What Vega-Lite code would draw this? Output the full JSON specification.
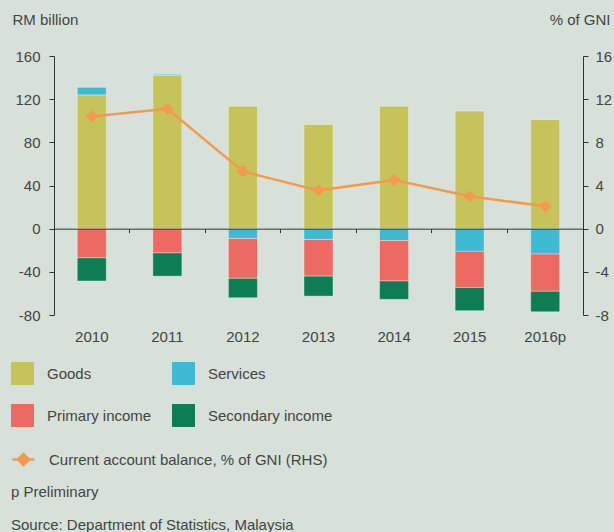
{
  "$schema": "https://vega.github.io/schema/vega-lite/v6.json",
  "width": 529,
  "height": 259,
  "autosize": {"type": "none"},
  "padding": {"left": 54, "top": 56, "right": 31, "bottom": 217},
  "background": "#d7e1d9",
  "config": {
    "view": {"stroke": null},
    "font": "Liberation Sans",
    "axis": {"labelFont": "Liberation Sans", "titleFont": "Liberation Sans", "labelColor": "#444444", "titleColor": "#444444", "labelFontSize": 15, "titleFontSize": 15, "titleFontWeight": "normal", "domainColor": "#333333", "tickColor": "#333333", "grid": false},
    "legend": {"labelFont": "Liberation Sans", "labelColor": "#444444", "labelFontSize": 15, "padding": 0, "labelLimit": 400}
  },
  "datasets": {
    "bars": [
      {"year": "2010", "component": "Goods", "rank": 1, "value": 124},
      {"year": "2010", "component": "Services", "rank": 2, "value": 7},
      {"year": "2010", "component": "Primary income", "rank": 3, "value": -27},
      {"year": "2010", "component": "Secondary income", "rank": 4, "value": -21.5},
      {"year": "2011", "component": "Goods", "rank": 1, "value": 142},
      {"year": "2011", "component": "Services", "rank": 2, "value": 1},
      {"year": "2011", "component": "Primary income", "rank": 3, "value": -22.5},
      {"year": "2011", "component": "Secondary income", "rank": 4, "value": -21.5},
      {"year": "2012", "component": "Goods", "rank": 1, "value": 113.5},
      {"year": "2012", "component": "Services", "rank": 2, "value": -9},
      {"year": "2012", "component": "Primary income", "rank": 3, "value": -37},
      {"year": "2012", "component": "Secondary income", "rank": 4, "value": -18},
      {"year": "2013", "component": "Goods", "rank": 1, "value": 96.5},
      {"year": "2013", "component": "Services", "rank": 2, "value": -10},
      {"year": "2013", "component": "Primary income", "rank": 3, "value": -34},
      {"year": "2013", "component": "Secondary income", "rank": 4, "value": -18.5},
      {"year": "2014", "component": "Goods", "rank": 1, "value": 113.5},
      {"year": "2014", "component": "Services", "rank": 2, "value": -11},
      {"year": "2014", "component": "Primary income", "rank": 3, "value": -37.5},
      {"year": "2014", "component": "Secondary income", "rank": 4, "value": -17},
      {"year": "2015", "component": "Goods", "rank": 1, "value": 109},
      {"year": "2015", "component": "Services", "rank": 2, "value": -21},
      {"year": "2015", "component": "Primary income", "rank": 3, "value": -33.5},
      {"year": "2015", "component": "Secondary income", "rank": 4, "value": -21.5},
      {"year": "2016p", "component": "Goods", "rank": 1, "value": 101},
      {"year": "2016p", "component": "Services", "rank": 2, "value": -23.5},
      {"year": "2016p", "component": "Primary income", "rank": 3, "value": -34.5},
      {"year": "2016p", "component": "Secondary income", "rank": 4, "value": -19}
    ],
    "cab": [
      {"year": "2010", "pct": 10.4, "series": "Current account balance, % of GNI (RHS)"},
      {"year": "2011", "pct": 11.1, "series": "Current account balance, % of GNI (RHS)"},
      {"year": "2012", "pct": 5.3, "series": "Current account balance, % of GNI (RHS)"},
      {"year": "2013", "pct": 3.55, "series": "Current account balance, % of GNI (RHS)"},
      {"year": "2014", "pct": 4.5, "series": "Current account balance, % of GNI (RHS)"},
      {"year": "2015", "pct": 3.0, "series": "Current account balance, % of GNI (RHS)"},
      {"year": "2016p", "pct": 2.07, "series": "Current account balance, % of GNI (RHS)"}
    ]
  },
  "title": {
    "text": "p  Preliminary",
    "subtitle": "Source: Department of Statistics, Malaysia",
    "orient": "bottom",
    "anchor": "start",
    "frame": "group",
    "dx": -43,
    "offset": 15,
    "font": "Liberation Sans",
    "fontSize": 15,
    "fontWeight": "normal",
    "color": "#444444",
    "subtitleFont": "Liberation Sans",
    "subtitleFontSize": 15,
    "subtitleColor": "#444444",
    "subtitlePadding": 18
  },
  "layer": [
    {
      "data": {"name": "bars"},
      "mark": {"type": "bar", "width": {"band": 0.384}, "stroke": "#ffffff", "strokeOpacity": 0.35, "strokeWidth": 1},
      "encoding": {
        "x": {
          "field": "year", "type": "ordinal",
          "scale": {"paddingInner": 0, "paddingOuter": 0},
          "axis": {"title": null, "domain": false, "ticks": false, "labelAngle": 0, "labelPadding": 14}
        },
        "y": {
          "field": "value", "type": "quantitative", "stack": "zero",
          "scale": {"domain": [-80, 160], "nice": false},
          "axis": {"values": [-80, -40, 0, 40, 80, 120, 160], "labelExpr": "'' + datum.value", "tickSize": 5, "labelPadding": 9, "zindex": 1,
                   "title": "RM billion", "titleAngle": 0, "titleAlign": "left", "titleBaseline": "alphabetic", "titleX": -42, "titleY": -32}
        },
        "color": {
          "field": "component", "type": "nominal",
          "scale": {"domain": ["Goods", "Services", "Primary income", "Secondary income"], "range": ["#c5c35a", "#3ebbd3", "#ec6a62", "#0e7d53"]},
          "legend": {"title": null, "orient": "none", "direction": "horizontal", "legendX": -43, "legendY": 306, "columns": 2, "symbolType": "square", "symbolSize": 529, "symbolStrokeWidth": 0, "symbolOpacity": 1, "labelOffset": 13, "columnPadding": 20, "rowPadding": 19, "gridAlign": "each"}
        },
        "order": {"field": "rank", "type": "quantitative", "sort": "ascending"}
      }
    },
    {
      "data": {"name": "cab"},
      "mark": {"type": "line", "strokeWidth": 2.5, "point": {"shape": "diamond", "size": 150, "filled": true, "opacity": 1}},
      "encoding": {
        "x": {
          "field": "year", "type": "ordinal",
          "axis": {"orient": "bottom", "offset": -86.33, "title": null, "labels": false, "domain": true, "ticks": true, "tickSize": 4, "bandPosition": 0, "zindex": 1}
        },
        "y": {
          "field": "pct", "type": "quantitative",
          "scale": {"domain": [-8, 16], "nice": false},
          "axis": {"orient": "right", "values": [-8, -4, 0, 4, 8, 12, 16], "labelExpr": "'' + datum.value", "tickSize": 5, "labelPadding": 7, "zindex": 1,
                   "title": "% of GNI", "titleAngle": 0, "titleAlign": "right", "titleBaseline": "alphabetic", "titleX": 27, "titleY": -32}
        },
        "color": {
          "field": "series", "type": "nominal",
          "scale": {"range": ["#f5994f"]},
          "legend": {"title": null, "orient": "none", "legendX": -43, "legendY": 391, "symbolType": "M-1,0L1,0M0,-0.5L0.5,0L0,0.5L-0.5,0Z", "symbolSize": 484, "symbolStrokeWidth": 2.5, "symbolFillColor": "#f5994f", "symbolStrokeColor": "#f5994f", "labelOffset": 13}
        }
      }
    }
  ],
  "resolve": {"scale": {"y": "independent", "color": "independent"}, "axis": {"x": "independent"}}
}
